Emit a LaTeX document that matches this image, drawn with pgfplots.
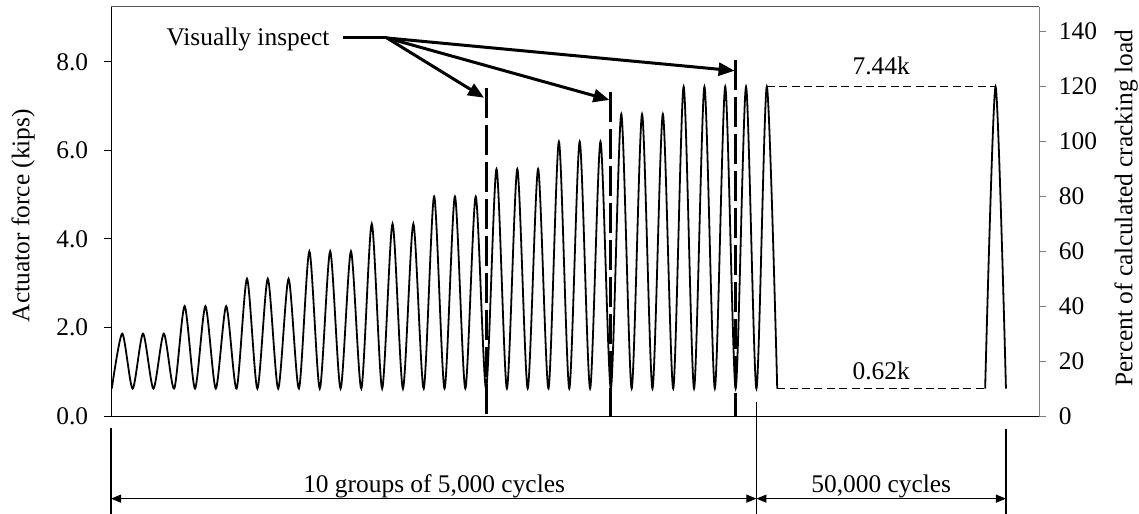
\documentclass[border=0pt]{standalone}
\usepackage{fontspec}
\setmainfont{Liberation Serif}
\usepackage{pgfplots}
\usepackage{pgfplotstable}
\pgfplotsset{compat=1.18}
\usetikzlibrary{arrows.meta}

\pgfplotstableread{
x y
0 0.62
0.5 1.86
1 0.62
1.5 1.86
2 0.62
2.5 1.86
3 0.62
3.5 2.48
4 0.62
4.5 2.48
5 0.62
5.5 2.48
6 0.62
6.5 3.10
7 0.62
7.5 3.10
8 0.62
8.5 3.10
9 0.62
9.5 3.72
10 0.62
10.5 3.72
11 0.62
11.5 3.72
12 0.62
12.5 4.34
13 0.62
13.5 4.34
14 0.62
14.5 4.34
15 0.62
15.5 4.96
16 0.62
16.5 4.96
17 0.62
17.5 4.96
18 0.62
18.5 5.58
19 0.62
19.5 5.58
20 0.62
20.5 5.58
21 0.62
21.5 6.20
22 0.62
22.5 6.20
23 0.62
23.5 6.20
24 0.62
24.5 6.82
25 0.62
25.5 6.82
26 0.62
26.5 6.82
27 0.62
27.5 7.44
28 0.62
28.5 7.44
29 0.62
29.5 7.44
30 0.62
30.5 7.44
31 0.62
31.5 7.44
32 0.62
}\wavea

\pgfplotstableread{
x y
42 0.62
42.5 7.44
43 0.62
}\waveb

\begin{document}
\fontsize{12.7bp}{15.2bp}\selectfont
\begin{tikzpicture}
\useasboundingbox (-55.5bp,-48.85bp) rectangle (514bp,208bp);
\begin{axis}[
  at={(0,0)}, anchor=south west,
  scale only axis, width=464bp, height=204.5bp,
  xmin=-0.04, xmax=44.59, ymin=0, ymax=9.24,
  axis y line*=left, axis x line*=bottom,
  axis line style={line width=0.5bp, black, -},
  xtick=\empty,
  ytick={0,2,4,6,8},
  /pgf/number format/assume math mode=true,
  yticklabel style={/pgf/number format/.cd, fixed, fixed zerofill, precision=1, /tikz/.cd, xshift=-3.5bp},
  tick align=outside, major tick length=3.5bp,
  tick style={line width=0.5bp, black},
  clip=false,
  ylabel={Actuator force (kips)},
  ylabel style={at={(axis description cs:-0.0948,0.49)}, anchor=center},
]
\draw[black!65, line width=0.5bp] (rel axis cs:0,1) -- (rel axis cs:1,1);
\addplot[black, line width=0.9bp, smooth, tension=0.45] table[x=x,y=y] {\wavea};
\addplot[black, line width=0.9bp, smooth, tension=0.45] table[x=x,y=y] {\waveb};
\addplot[black, line width=0.6bp, dash pattern=on 4bp off 2.2bp] coordinates {(31.5,7.44) (42.5,7.44)};
\addplot[black, line width=0.6bp, dash pattern=on 4bp off 2.2bp] coordinates {(32,0.62) (42,0.62)};
\node[anchor=base] at (axis cs:37,7.71) {7.44k};
\node[anchor=base] at (axis cs:37,0.82) {0.62k};
% inspection lines
\draw[line width=1.4bp, dash pattern=on 15bp off 3.5bp] (axis cs:18,7.42) -- (axis cs:18,0);
\draw[line width=1.4bp, dash pattern=on 15bp off 3.5bp] (axis cs:24,7.33) -- (axis cs:24,0);
\draw[line width=1.4bp, dash pattern=on 15bp off 3.5bp] (axis cs:30,8.05) -- (axis cs:30,0);
\node at (axis cs:6.55,8.5) {Visually inspect};
\draw[line width=1.5bp] (axis cs:11.11,8.54) -- (axis cs:13.23,8.54);
\draw[line width=1.5bp, -{Triangle[length=8bp,width=6.5bp]}] (axis cs:13.23,8.54) -- (axis cs:17.9,7.19);
\draw[line width=1.5bp, -{Triangle[length=8bp,width=6.5bp]}] (axis cs:13.23,8.54) -- (axis cs:23.93,7.14);
\draw[line width=1.5bp, -{Triangle[length=8bp,width=6.5bp]}] (axis cs:13.23,8.54) -- (axis cs:29.95,7.80);
% bottom annotation
\draw[line width=0.55bp] (axis cs:-0.04,-0.264) -- (axis cs:-0.04,-2.5);
\draw[line width=0.55bp] (axis cs:31,0.32) -- (axis cs:31,-2.5);
\draw[line width=0.55bp] (axis cs:43,-0.29) -- (axis cs:43,-2.5);
\draw[line width=0.55bp, {Triangle[length=5bp,width=4bp]}-{Triangle[length=5bp,width=4bp]}] (axis cs:-0.04,-1.867) -- (axis cs:31,-1.867);
\draw[line width=0.55bp, {Triangle[length=5bp,width=4bp]}-{Triangle[length=5bp,width=4bp]}] (axis cs:31,-1.867) -- (axis cs:43,-1.867);
\node[anchor=base] at (axis cs:15.5,-1.73) {10 groups of 5,000 cycles};
\node[anchor=base] at (axis cs:37,-1.73) {50,000 cycles};
\end{axis}
\begin{axis}[
  at={(0,0)}, anchor=south west,
  scale only axis, width=464bp, height=204.5bp,
  xmin=-0.04, xmax=44.59, ymin=0, ymax=148.8,
  axis y line*=right, axis x line=none,
  axis line style={line width=0.5bp, gray, -},
  ytick={0,20,40,60,80,100,120,140},
  /pgf/number format/assume math mode=true,
  yticklabel style={xshift=2bp},
  tick align=outside, major tick length=3.5bp,
  tick style={line width=0.5bp, gray},
  ylabel={Percent of calculated cracking load},
  ylabel style={at={(axis description cs:1.0938,0.508)}, anchor=center},
]
\end{axis}
\end{tikzpicture}
\end{document}
